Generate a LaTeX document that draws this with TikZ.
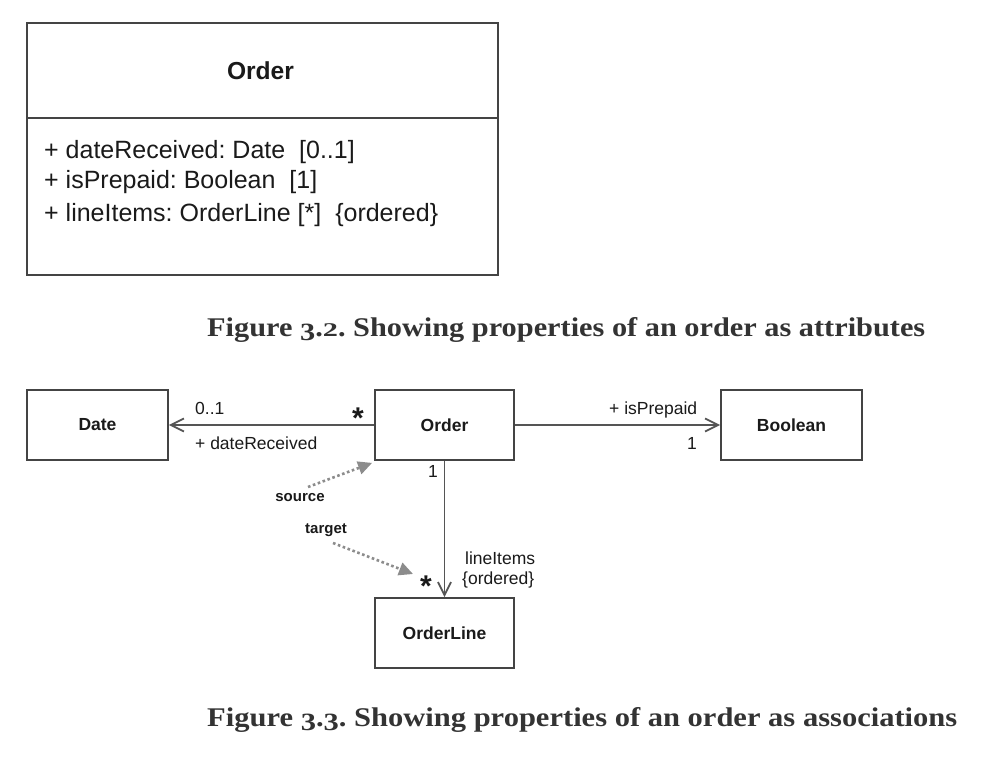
\documentclass[tikz,border=0pt]{standalone}
\usepackage{fontspec}
\usepackage{graphicx}
\newfontfamily\lsans{Liberation Sans}
\newfontfamily\lserif{Liberation Serif}
\frenchspacing
\usetikzlibrary{arrows.meta}
\definecolor{boxc}{HTML}{444444}
\definecolor{linec}{HTML}{555555}
\definecolor{dotc}{HTML}{8C8C8C}
\definecolor{capc}{HTML}{333333}
\definecolor{txtc}{HTML}{1A1A1A}
\newcommand{\osthree}{\raisebox{-0.17em}{\scalebox{1}[0.92]{3}}}
\newcommand{\ostwo}{\scalebox{1}[0.72]{2}}
\begin{document}
\begin{tikzpicture}[x=1pt,y=-1pt,
  cls/.style={draw=boxc, line width=1.8pt, minimum width=139pt, minimum height=70pt,
    inner sep=0pt, text=txtc, font=\lsans\bfseries\fontsize{17.5}{20}\selectfont},
  lbl/.style={inner sep=0pt, text=txtc, font=\lsans\fontsize{17.5}{20}\selectfont},
  attr/.style={inner sep=0pt, anchor=base west, text=txtc, font=\lsans\fontsize{25}{30}\selectfont},
  mult/.style={inner sep=0pt, text=txtc, font=\lsans\bfseries\fontsize{30}{30}\selectfont},
  role/.style={inner sep=0pt, text=txtc, font=\lsans\bfseries\fontsize{15}{18}\selectfont},
  assoc/.style={draw=linec, line width=1.8pt, -{Straight Barb[length=13pt,width=13pt,line width=1.8pt]}},
  dotarr/.style={draw=dotc, line width=2.6pt, dash pattern=on 2.6pt off 2.6pt,
    -{Triangle[length=14pt,width=13pt,fill=dotc]}},
  caption/.style={inner sep=0pt, anchor=base west, text=capc}
]
\useasboundingbox (0,0) rectangle (996,765);
\fill[white] (0,0) rectangle (996,765);

% ---- Figure 3.2 : class with attributes
\node[draw=boxc, line width=1.8pt, minimum width=471pt, minimum height=252pt, inner sep=0pt] (big) at (262.5,149) {};
\draw[draw=boxc, line width=1.8pt] ([yshift=-96pt]big.north west) -- ([yshift=-96pt]big.north east);
\node[inner sep=0pt, text=txtc, font=\lsans\bfseries\fontsize{24.6}{28}\selectfont] (title) at (260.5,71) {Order};
\node[attr] (a1) at (44,158) {+ dateReceived: Date~~[0..1]};
\node[attr] (a2) at (44,189) {+ isPrepaid: Boolean~~[1]};
\node[attr] (a3) at (44,221) {+ lineItems: OrderLine [*]~~\{ordered\}};

\node[caption] (cap1) at (207,336) {\resizebox{718pt}{19pt}{\lserif\bfseries Figure \osthree.\ostwo. Showing properties of an order as attributes}};

% ---- Figure 3.3 : associations
\node[cls, minimum width=141pt] (Date) at (97.5,425) {Date};
\node[cls] (Order) at (444.5,425) {Order};
\node[cls, minimum width=141pt] (Boolean) at (791.5,425) {Boolean};
\node[cls] (OrderLine) at (444.5,633) {OrderLine};

\draw[assoc] (Order.west) -- (Date.east);
\draw[assoc] (Order.east) -- (Boolean.west);
\draw[assoc] (Order.south) -- (OrderLine.north);

\node[lbl, anchor=base west] (m01) at (195,414) {0..1};
\node[lbl, anchor=base west] (dr) at (195,449) {+ dateReceived};
\node[mult] (s1) at (358,418) {*};
\node[lbl, anchor=base west] (ip) at (609,414) {+ isPrepaid};
\node[lbl, anchor=base] (m1b) at (692,449) {1};
\node[lbl, anchor=base] (m1o) at (433,477) {1};
\node[lbl, anchor=west, align=left, font=\lsans\fontsize{17.5}{19.5}\selectfont] (li) at (462,570) {\,lineItems\\\{ordered\}};
\node[mult] (s2) at (426,586) {*};

\node[role] (src) at (300,498) {source};
\node[role] (tgt) at (326,530) {target};
\coordinate (srcA) at (308,487);
\coordinate (tgtA) at (333,543);
\coordinate (tgtB) at (413,574);
\draw[dotarr] (srcA) -- ([shift={(-2,2)}]Order.south west);
\draw[dotarr] (tgtA) -- (tgtB);

\node[caption] (cap2) at (207,726) {\resizebox{750pt}{19pt}{\lserif\bfseries Figure \osthree.\osthree. Showing properties of an order as associations}};
\end{tikzpicture}
\end{document}
